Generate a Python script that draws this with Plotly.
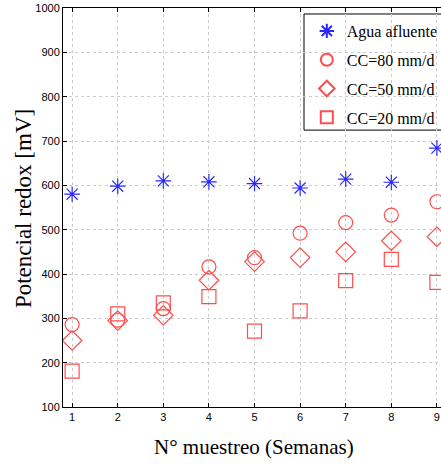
import plotly.graph_objects as go

semanas = [1, 2, 3, 4, 5, 6, 7, 8, 9]
agua_afluente = [580, 598, 610, 608, 604, 594, 614, 607, 684]
cc80 = [286, 296, 322, 416, 437, 492, 516, 533, 563]
cc50 = [250, 295, 307, 386, 428, 437, 450, 475, 484]
cc20 = [181, 310, 335, 349, 271, 317, 385, 433, 381]

y_ticks = [100, 200, 300, 400, 500, 600, 700, 800, 900, 1000]
x_title = "N° muestreo (Semanas)"
y_title = "Potencial redox [mV]"

red = "#ff4d4d"
blue = "#2a2aff"

fig = go.Figure()
fig.add_trace(go.Scatter(x=semanas, y=agua_afluente, mode="markers", name="Agua afluente",
                         legendgroup="a",
                         marker=dict(symbol="asterisk-open", size=13, color=blue,
                                     line=dict(color=blue, width=1.2))))
fig.add_trace(go.Scatter(x=semanas, y=cc80, mode="markers", name="CC=80 mm/d",
                         legendgroup="b",
                         marker=dict(symbol="circle-open", size=14, color=red,
                                     line=dict(color=red, width=1.2))))
fig.add_trace(go.Scatter(x=semanas, y=cc50, mode="markers", name="CC=50 mm/d",
                         legendgroup="c",
                         marker=dict(symbol="diamond-open", size=15, color=red,
                                     line=dict(color=red, width=1.2))))
fig.add_trace(go.Scatter(x=semanas, y=cc20, mode="markers", name="CC=20 mm/d",
                         legendgroup="d",
                         marker=dict(symbol="square-open", size=14, color=red,
                                     line=dict(color=red, width=1.2))))

serif = "Liberation Serif"
fig.update_layout(
    width=441, height=465,
    margin=dict(l=63, r=0, t=8, b=58, autoexpand=False),
    paper_bgcolor="white", plot_bgcolor="white",
    showlegend=True,
    legend=dict(x=0.645, y=0.985, xanchor="left", yanchor="top",
                borderwidth=0, bgcolor="rgba(0,0,0,0)",
                font=dict(family=serif, size=16, color="black"),
                itemsizing="constant", tracegroupgap=5),
    shapes=[dict(type="rect", xref="paper", yref="paper",
                 x0=0.6376, x1=1.02, y0=0.694, y1=0.985,
                 line=dict(color="black", width=1), fillcolor="white", layer="below")],
    annotations=[
        dict(text=x_title, xref="paper", yref="paper", x=0.504, y=-0.1003,
             xanchor="center", yanchor="middle", showarrow=False,
             font=dict(family=serif, size=21, color="black")),
        dict(text=y_title, xref="paper", yref="paper", x=-0.1058, y=0.496,
             xanchor="center", yanchor="middle", showarrow=False, textangle=-90,
             font=dict(family=serif, size=23, color="black")),
    ],
    xaxis=dict(range=[0.8, 9.09], tickmode="array", tickvals=semanas,
               ticktext=[str(s) for s in semanas], automargin=False,
               showline=True, linecolor="black", linewidth=1, mirror="ticks",
               ticks="inside", ticklen=4, tickcolor="black",
               showgrid=True, gridcolor="#cccccc", griddash="dot", gridwidth=1,
               zeroline=False,
               tickfont=dict(family="Liberation Sans Narrow, Liberation Sans", size=11, color="black")),
    yaxis=dict(range=[100, 1000], tickmode="array", tickvals=y_ticks, automargin=False,
               showline=True, linecolor="black", linewidth=1,
               ticks="inside", ticklen=4, tickcolor="black",
               showgrid=True, gridcolor="#cccccc", griddash="dot", gridwidth=1,
               zeroline=False,
               tickfont=dict(family="Liberation Sans Narrow, Liberation Sans", size=11, color="black")),
)

fig.write_html("out.html")
